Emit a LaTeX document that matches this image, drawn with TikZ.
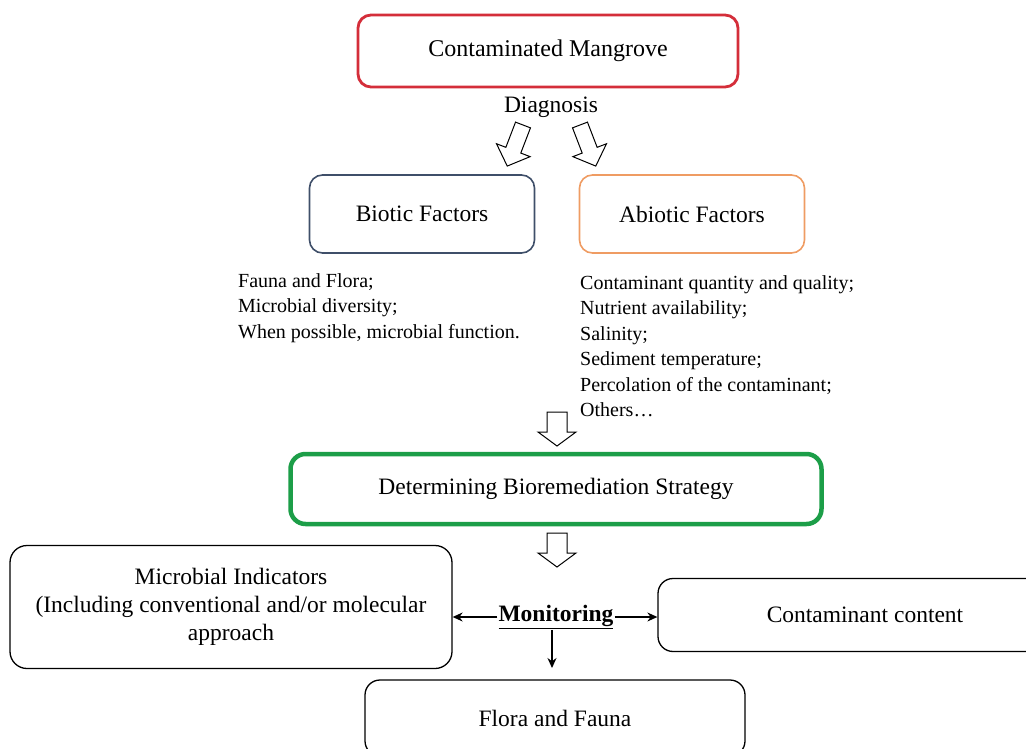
\documentclass[tikz,border=0pt]{standalone}
\usepackage{fontspec}
\setmainfont{Liberation Serif}
\usetikzlibrary{arrows.meta}
\definecolor{cred}{HTML}{D42E3A}
\definecolor{cnavy}{HTML}{3F4F69}
\definecolor{corange}{HTML}{EF9C63}
\definecolor{cgreen}{HTML}{1C9E48}
\tikzset{
  rbox/.style={draw, rounded corners=13pt, line width=1.3pt, align=center, inner sep=0pt},
  bigtxt/.style={font=\fontsize{23.5}{28}\selectfont},
  listtxt/.style={font=\fontsize{20}{25.5}\selectfont, align=left, anchor=north west, inner sep=0pt},
  harrow/.pic={\draw[line width=1pt, fill=white] (-10,0) -- (-10,20) -- (-19,20) -- (0,34) -- (19,20) -- (10,20) -- (10,0) -- cycle;},
  darrow/.pic={\draw[line width=1pt, fill=white] (-8,0) -- (-8,27) -- (-18,27) -- (0,44) -- (18,27) -- (8,27) -- (8,0) -- cycle;},
  thinarrow/.style={-{Stealth[length=10pt,width=9pt]}, line width=1.2pt}
}
\begin{document}
\begin{tikzpicture}[x=1pt,y=-1pt]
\useasboundingbox (0,0) rectangle (1026,749);
\node[rbox, draw=cred, line width=2.8pt, minimum width=380pt, minimum height=72pt, bigtxt, font=\fontsize{24}{28}\selectfont] (cm) at (548,51) {Contaminated Mangrove};
\node[bigtxt, inner sep=1pt] (diag) at (551,107) {Diagnosis};
\pic[rotate=-21] at (523,125) {darrow};
\pic[rotate=21] at (580,125) {darrow};
\node[rbox, draw=cnavy, line width=1.6pt, minimum width=225pt, minimum height=78pt, bigtxt] (bio) at (422,214) {Biotic Factors};
\node[rbox, draw=corange, line width=1.6pt, minimum width=225pt, minimum height=78pt, bigtxt] (abio) at (692,214) {Abiotic Factors};
\node[listtxt] (biolist) at (238,273) {Fauna and Flora;\\Microbial diversity;\\When possible, microbial function.};
\node[listtxt] (abiolist) at (580,275) {Contaminant quantity and quality;\\Nutrient availability;\\Salinity;\\Sediment temperature;\\Percolation of the contaminant;\\Others\ldots};
\pic at (557,412) {harrow};
\node[rbox, draw=cgreen, line width=4.5pt, rounded corners=15pt, minimum width=531pt, minimum height=70pt, bigtxt] (strat) at (556,489) {Determining Bioremediation Strategy};
\pic at (557,533) {harrow};
\node[rbox, line width=1.3pt, rounded corners=17pt, minimum width=442pt, minimum height=123pt, bigtxt] (micro) at (231,607) {Microbial Indicators\\(Including conventional and/or molecular\\approach};
\node[rbox, line width=1.3pt, rounded corners=15pt, minimum width=414pt, minimum height=73pt, bigtxt] (cont) at (865,615) {Contaminant content};
\node[rbox, line width=1.3pt, rounded corners=15pt, minimum width=380pt, minimum height=76pt, bigtxt] (ff) at (555,718) {Flora and Fauna};
\node[bigtxt, font=\fontsize{23.5}{28}\bfseries\selectfont, inner sep=1pt] (mon) at (556,617) {\underline{Monitoring}};
\draw[thinarrow] (mon.west) -- (micro.east |- mon.west);
\draw[thinarrow] (mon.east) -- (cont.west |- mon.east);
\draw[thinarrow] (mon.south -| 552,0) -- (552,668);
\end{tikzpicture}
\end{document}
